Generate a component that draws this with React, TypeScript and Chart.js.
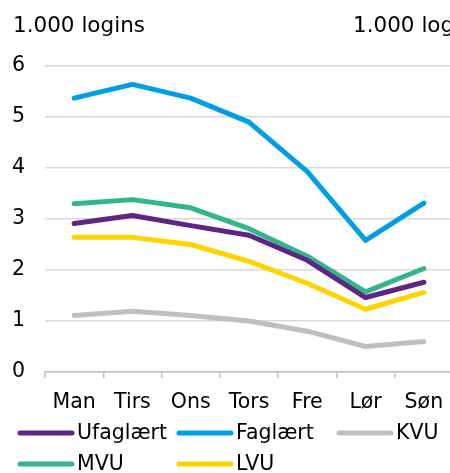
import React, { useEffect, useRef } from "react";
import { Chart, registerables } from "chart.js";

Chart.register(...registerables);

const categories = ["Man", "Tirs", "Ons", "Tors", "Fre", "Lør", "Søn"];
const ufaglaert = [2.91, 3.07, 2.87, 2.68, 2.19, 1.46, 1.76];
const faglaert = [5.37, 5.64, 5.37, 4.9, 3.93, 2.58, 3.31];
const kvu = [1.11, 1.19, 1.11, 1.0, 0.8, 0.5, 0.6];
const mvu = [3.3, 3.38, 3.22, 2.81, 2.27, 1.57, 2.03];
const lvu = [2.64, 2.64, 2.5, 2.17, 1.74, 1.23, 1.56];
const seriesNames = ["Ufaglært", "Faglært", "KVU", "MVU", "LVU"];
const seriesColors = ["#5f2583", "#009fe3", "#bfbfbf", "#33b58b", "#ffd300"];
const leftTitle = "1.000 logins";
const rightTitle = "1.000 logins";

const FONT = "'DejaVu Sans', Verdana, sans-serif";
const FS = 20.5;

const textPlugin = {
  id: "extraText",
  afterDraw(chart: any) {
    const ctx = chart.ctx;
    ctx.save();
    ctx.font = `21.5px ${FONT}`;
    ctx.fillStyle = "#000";
    ctx.textBaseline = "middle";
    ctx.textAlign = "left";
    ctx.fillText(leftTitle, 13, 26);
    ctx.fillText(rightTitle, 353, 26);
    // grid legend
    ctx.font = `${FS}px ${FONT}`;
    const cols = [18, 177, 337];
    const rows = [433, 464];
    chart.data.datasets.forEach((ds: any, i: number) => {
      const x = cols[i % 3];
      const y = rows[Math.floor(i / 3)];
      ctx.strokeStyle = ds.borderColor;
      ctx.lineWidth = 5;
      ctx.lineCap = "round";
      ctx.beginPath();
      ctx.moveTo(x + 2, y);
      ctx.lineTo(x + 54, y);
      ctx.stroke();
      ctx.fillStyle = "#000";
      ctx.fillText(ds.label, x + 59, y + 1);
    });
    ctx.restore();
  },
};

export default function App() {
  const ref = useRef<HTMLCanvasElement>(null);
  useEffect(() => {
    if (!ref.current) return;
    const all = [ufaglaert, faglaert, kvu, mvu, lvu];
    const chart = new Chart(ref.current, {
      type: "line",
      data: {
        labels: categories,
        datasets: all.map((d, i) => ({
          label: seriesNames[i],
          data: d,
          borderColor: seriesColors[i],
          backgroundColor: seriesColors[i],
          borderWidth: 5,
          pointRadius: 0,
          tension: 0,
          borderCapStyle: "round" as const,
          borderJoinStyle: "round" as const,
        })),
      },
      options: {
        responsive: false,
        animation: false,
        layout: { padding: { top: 66, right: 17, bottom: 56, left: 0 } },
        plugins: { legend: { display: false }, tooltip: { enabled: false }, title: { display: false } },
        scales: {
          x: {
            offset: true,
            grid: {
              offset: true,
              drawOnChartArea: false,
              drawTicks: true,
              tickLength: 6,
              color: "#bfbfbf",
              lineWidth: 1.5,
            },
            border: { display: true, color: "#bfbfbf", width: 1.5 },
            ticks: { color: "#000", font: { family: FONT, size: FS }, padding: 12, maxRotation: 0, autoSkip: false },
            afterFit(scale: any) {
              scale.height = 45;
            },
          },
          y: {
            min: 0,
            max: 6,
            ticks: { stepSize: 1, color: "#000", font: { family: FONT, size: FS }, padding: 20 },
            grid: { drawTicks: false, color: "#d9d9d9", lineWidth: 1.5 },
            border: { display: false },
            afterFit(scale: any) {
              scale.width = 45;
            },
          },
        },
      },
      plugins: [textPlugin],
    });
    return () => chart.destroy();
  }, []);
  return (
    <div style={{ position: "absolute", left: 0, top: 0, width: 450, height: 473, overflow: "hidden", background: "#fff" }}>
      <canvas ref={ref} width={470} height={473} style={{ width: 470, height: 473, display: "block" }} />
    </div>
  );
}
